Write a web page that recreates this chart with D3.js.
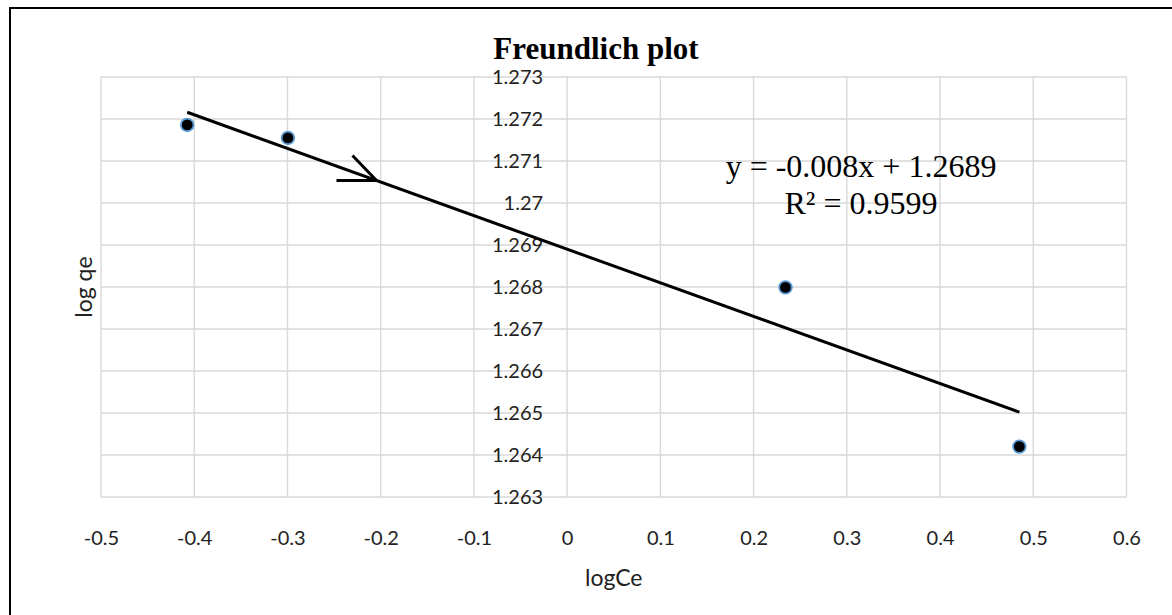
<!DOCTYPE html>
<html>
<head>
<meta charset="utf-8">
<script src="https://cdn.jsdelivr.net/npm/d3@7"></script>
<style>
  html, body { margin: 0; padding: 0; background: #fff; }
  svg { display: block; }
</style>
</head>
<body>
<svg id="chart" width="1172" height="615"></svg>
<script>
// Freundlich isotherm: log qe against log Ce
const logCe = [-0.4075, -0.2995, 0.2342, 0.4851];
const logQe = [1.27186, 1.27155, 1.26799, 1.26420];

// Linear trendline as reported on the chart
const trendSlope = -0.008;
const trendIntercept = 1.2689;
const rSquared = 0.9599;

const xTickValues = [-0.5, -0.4, -0.3, -0.2, -0.1, 0, 0.1, 0.2, 0.3, 0.4, 0.5, 0.6];
const xTickLabels = ["-0.5", "-0.4", "-0.3", "-0.2", "-0.1", "0", "0.1", "0.2", "0.3", "0.4", "0.5", "0.6"];
const yTickValues = [1.263, 1.264, 1.265, 1.266, 1.267, 1.268, 1.269, 1.27, 1.271, 1.272, 1.273];
const yTickLabels = ["1.263", "1.264", "1.265", "1.266", "1.267", "1.268", "1.269", "1.27", "1.271", "1.272", "1.273"];

// point on the trendline that the pointer arrow marks
const arrowAtX = -0.2045;

const svg = d3.select("#chart");
const plot = { left: 101, right: 1126.5, top: 77, bottom: 497 };

const x = d3.scaleLinear().domain([-0.5, 0.6]).range([plot.left, plot.right]);
const y = d3.scaleLinear().domain([1.263, 1.273]).range([plot.bottom, plot.top]);

const gridColor = "#d9d9d9";
const tickFont = "Lato, 'Open Sans', sans-serif";
const serif = "'Liberation Serif', 'Times New Roman', serif";

// outer chart frame
svg.append("path")
  .attr("d", "M10,640 V8 H1200")
  .attr("fill", "none")
  .attr("stroke", "#000")
  .attr("stroke-width", 2);

// gridlines
svg.append("g").selectAll("line.vg")
  .data(xTickValues).join("line")
  .attr("x1", d => x(d)).attr("x2", d => x(d))
  .attr("y1", plot.top).attr("y2", plot.bottom)
  .attr("stroke", gridColor).attr("stroke-width", 1.4);

svg.append("g").selectAll("line.hg")
  .data(yTickValues).join("line")
  .attr("x1", plot.left).attr("x2", plot.right)
  .attr("y1", d => y(d)).attr("y2", d => y(d))
  .attr("stroke", gridColor).attr("stroke-width", 1.4);

// x axis labels (below the plot)
const xAxis = d3.axisBottom(x)
  .tickValues(xTickValues)
  .tickFormat((d, i) => xTickLabels[i])
  .tickSize(0)
  .tickPadding(34);
const gx = svg.append("g").attr("transform", `translate(0,${plot.bottom})`).call(xAxis);
gx.select(".domain").remove();
gx.selectAll("text").attr("font-family", tickFont).attr("font-size", 20).attr("fill", "#222");

// y axis labels (next to the vertical axis at x = 0)
const yAxis = d3.axisLeft(y)
  .tickValues(yTickValues)
  .tickFormat((d, i) => yTickLabels[i])
  .tickSize(0)
  .tickPadding(24);
const gy = svg.append("g").attr("transform", `translate(${x(0)},0)`).call(yAxis);
gy.select(".domain").remove();
gy.selectAll("text").attr("font-family", tickFont).attr("font-size", 20).attr("fill", "#222");

// axis titles
svg.append("text")
  .attr("x", (plot.left + plot.right) / 2).attr("y", 586)
  .attr("text-anchor", "middle")
  .attr("font-family", tickFont).attr("font-size", 23).attr("fill", "#222")
  .text("logCe");

svg.append("text")
  .attr("transform", `translate(92,${(plot.top + plot.bottom) / 2}) rotate(-90)`)
  .attr("text-anchor", "middle")
  .attr("font-family", tickFont).attr("font-size", 23).attr("fill", "#222")
  .text("log qe");

// chart title
svg.append("text")
  .attr("x", 596).attr("y", 59)
  .attr("text-anchor", "middle")
  .attr("font-family", serif).attr("font-size", 31).attr("font-weight", "bold")
  .attr("fill", "#000")
  .text("Freundlich plot");

// trendline over the data range
const trend = v => trendSlope * v + trendIntercept;
const xExt = d3.extent(logCe);
svg.append("line")
  .attr("x1", x(xExt[0])).attr("y1", y(trend(xExt[0])))
  .attr("x2", x(xExt[1])).attr("y2", y(trend(xExt[1])))
  .attr("stroke", "#000").attr("stroke-width", 3);

// pointer arrow marking the line
const tipX = x(arrowAtX), tipY = y(trend(arrowAtX));
svg.append("path")
  .attr("d", `M${tipX - 40},${tipY} L${tipX},${tipY} M${tipX - 24},${tipY - 25} L${tipX},${tipY}`)
  .attr("fill", "none").attr("stroke", "#000").attr("stroke-width", 3);

// data points
svg.append("g").selectAll("circle")
  .data(logCe.map((v, i) => [v, logQe[i]]))
  .join("circle")
  .attr("cx", d => x(d[0])).attr("cy", d => y(d[1]))
  .attr("r", 6.3)
  .attr("fill", "#000")
  .attr("stroke", "#5b9bd5").attr("stroke-width", 1.8);

// trendline equation
const eq = svg.append("g").attr("font-family", serif).attr("font-size", 32).attr("fill", "#000")
  .attr("text-anchor", "middle");
eq.append("text").attr("x", 861).attr("y", 177)
  .text(`y = ${trendSlope}x + ${trendIntercept}`);
eq.append("text").attr("x", 861).attr("y", 214)
  .text(`R² = ${rSquared}`);
</script>
</body>
</html>
